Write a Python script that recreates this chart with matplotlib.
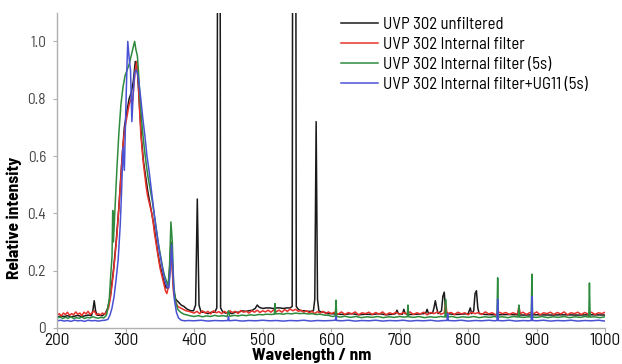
import matplotlib
matplotlib.use('Agg')
from matplotlib import pyplot as plt
from matplotlib import ticker

plt.rcParams['font.family'] = ['Barlow Semi Condensed', 'Archivo Narrow', 'Liberation Sans', 'DejaVu Sans']

# spectra: (wavelength nm, relative intensity)
unfiltered = [
    (200, .038), (205, .042), (210, .040), (215, .043), (220, .039), (225, .041), (230, .044),
    (235, .040), (240, .042), (245, .045), (250, .043), (252, .060), (254, .095), (256, .060),
    (258, .045), (262, .044), (266, .043), (270, .050), (274, .070), (278, .12), (282, .20),
    (286, .30), (290, .42), (294, .57), (298, .70), (302, .76), (305, .80), (308, .82), (311, .86),
    (314, .93), (317, .90), (320, .78), (323, .66), (326, .58), (329, .53), (332, .48), (335, .44),
    (338, .40), (341, .36), (344, .31), (347, .26), (350, .22), (353, .19), (356, .16), (359, .14),
    (362, .14), (364, .20), (366, .30), (368, .22), (370, .13), (373, .10), (377, .09), (381, .08),
    (385, .075), (390, .065), (395, .060), (399, .060), (402, .08), (404.5, .45), (407, .08),
    (410, .055), (415, .055), (420, .050), (425, .055), (430, .055), (433, .070), (435.5, 3.0),
    (437, 3.0), (438.5, .07), (442, .055), (446, .052), (450, .055), (455, .050), (460, .055),
    (465, .055), (470, .060), (475, .058), (480, .060), (485, .062), (489, .068), (492, .080),
    (495, .072), (500, .068), (505, .070), (510, .070), (515, .068), (520, .070), (525, .070),
    (530, .068), (535, .070), (540, .070), (543, .075), (544.5, 3.0), (547.5, 3.0), (549, .075),
    (552, .065), (556, .060), (560, .060), (565, .058), (570, .058), (574, .060), (576, .10),
    (578, .72), (580, .10), (582, .060), (586, .055), (590, .055), (595, .050), (600, .050),
    (610, .048), (620, .047), (630, .050), (640, .046), (650, .048), (660, .047), (670, .050),
    (680, .046), (690, .048), (694, .050), (696, .062), (698, .050), (704, .048), (706, .065),
    (708, .050), (715, .047), (725, .048), (735, .050), (738, .052), (740, .065), (742, .050),
    (748, .052), (750, .070), (752, .095), (754, .070), (756, .050), (761, .060), (763, .11),
    (765, .125), (767, .060), (770, .050), (780, .047), (790, .048), (800, .050), (803, .070),
    (805, .050), (808, .060), (810, .12), (812, .13), (814, .070), (816, .050), (825, .047),
    (840, .046), (860, .047), (880, .045), (900, .046), (920, .045), (940, .046), (960, .045),
    (980, .046), (1000, .045),
]

internal = [
    (200, .045), (203, .050), (206, .042), (209, .052), (212, .047), (215, .055), (218, .044),
    (221, .050), (224, .046), (227, .056), (230, .048), (233, .052), (236, .043), (239, .055),
    (242, .049), (245, .058), (248, .047), (251, .053), (254, .060), (257, .046), (260, .050),
    (263, .045), (266, .052), (269, .048), (272, .055), (275, .070), (278, .11), (281, .17),
    (284, .24), (287, .32), (290, .42), (293, .53), (296, .64), (299, .70), (302, .74), (305, .78),
    (308, .80), (310, .79), (312, .85), (314, .90), (316, .93), (318, .88), (320, .77), (322, .68),
    (324, .62), (326, .57), (328, .53), (330, .49), (332, .46), (334, .44), (336, .42), (338, .40),
    (340, .37), (342, .33), (344, .30), (346, .27), (348, .24), (350, .21), (352, .19), (354, .17),
    (356, .15), (358, .13), (360, .12), (362, .14), (364, .18), (366, .28), (368, .20), (370, .12),
    (373, .09), (376, .075), (380, .070), (384, .065), (388, .060), (392, .058), (396, .055),
    (400, .052), (404, .058), (408, .050), (412, .060), (416, .052), (420, .058), (424, .049),
    (428, .060), (432, .053), (436, .057), (440, .050), (444, .058), (448, .052), (452, .060),
    (456, .054), (460, .058), (464, .050), (468, .061), (472, .055), (476, .058), (480, .052),
    (484, .060), (488, .055), (492, .062), (496, .054), (500, .060), (504, .056), (508, .062),
    (512, .055), (516, .063), (520, .057), (524, .062), (528, .055), (532, .064), (536, .058),
    (540, .066), (544, .060), (548, .065), (552, .058), (556, .062), (560, .055), (564, .060),
    (568, .053), (572, .058), (576, .050), (580, .057), (584, .052), (588, .058), (592, .050),
    (596, .056), (600, .050), (605, .055), (610, .048), (615, .056), (620, .047), (625, .054),
    (630, .049), (635, .056), (640, .046), (645, .053), (650, .050), (655, .055), (660, .047),
    (665, .054), (670, .048), (675, .056), (680, .046), (685, .053), (690, .049), (695, .055),
    (700, .047), (705, .054), (710, .050), (715, .056), (720, .047), (725, .053), (730, .049),
    (735, .055), (740, .046), (745, .054), (750, .050), (755, .056), (760, .048), (765, .052),
    (767, .090), (769, .050), (775, .054), (780, .047), (785, .055), (790, .049), (795, .053),
    (800, .046), (805, .055), (810, .050), (815, .054), (820, .047), (825, .056), (830, .049),
    (835, .053), (840, .046), (845, .055), (850, .050), (855, .054), (860, .047), (865, .053),
    (870, .049), (872, .050), (874, .075), (876, .050), (880, .055), (885, .047), (890, .054),
    (895, .049), (900, .056), (905, .046), (910, .053), (915, .050), (920, .055), (925, .047),
    (930, .054), (935, .049), (940, .056), (945, .046), (950, .053), (955, .050), (960, .055),
    (965, .047), (970, .054), (975, .049), (980, .055), (985, .047), (990, .053), (995, .050),
    (1000, .055),
]

internal_5s = [
    (200, .035), (204, .038), (208, .033), (212, .037), (216, .034), (220, .039), (224, .033),
    (228, .036), (232, .034), (236, .038), (240, .033), (244, .037), (248, .035), (252, .039),
    (256, .036), (260, .034), (264, .037), (268, .035), (272, .045), (276, .10), (278, .18),
    (280, .25), (281, .41), (282, .30), (284, .40), (287, .55), (290, .68), (293, .78), (296, .84),
    (299, .88), (302, .90), (305, .92), (308, .95), (311, .98), (313, 1.00), (315, .97), (317, .95),
    (319, .88), (321, .80), (324, .70), (327, .63), (330, .57), (333, .52), (336, .48), (339, .44),
    (342, .39), (345, .34), (348, .29), (351, .25), (354, .21), (357, .18), (360, .16), (362, .15),
    (364, .22), (366, .37), (368, .30), (370, .15), (373, .09), (376, .065), (380, .055),
    (385, .048), (390, .045), (395, .042), (400, .040), (406, .043), (412, .039), (418, .042),
    (424, .040), (430, .044), (436, .041), (442, .043), (448, .040), (450, .060), (452, .041),
    (458, .044), (464, .042), (470, .045), (476, .043), (482, .046), (488, .044), (494, .047),
    (500, .046), (506, .048), (512, .047), (517, .048), (518, .085), (519, .049), (524, .050),
    (530, .048), (536, .051), (542, .049), (548, .052), (554, .050), (560, .051), (566, .049),
    (572, .050), (578, .047), (584, .048), (590, .045), (596, .044), (602, .040), (606, .042),
    (607, .097), (608, .040), (614, .038), (620, .041), (628, .037), (636, .040), (644, .036),
    (652, .039), (660, .037), (668, .040), (676, .036), (684, .039), (692, .037), (700, .040),
    (706, .038), (711, .039), (712, .080), (713, .039), (720, .037), (728, .040), (736, .036),
    (744, .039), (752, .037), (760, .040), (766, .038), (767, .100), (768, .038), (776, .040),
    (784, .036), (792, .039), (800, .037), (808, .040), (816, .036), (824, .039), (832, .037),
    (838, .040), (842, .038), (843, .175), (844, .038), (850, .039), (858, .036), (866, .040),
    (873, .038), (874, .080), (875, .038), (882, .037), (888, .039), (892, .038), (893, .188),
    (894, .038), (900, .037), (908, .040), (916, .036), (924, .039), (932, .037), (940, .040),
    (948, .036), (956, .039), (964, .037), (970, .040), (976, .038), (977, .157), (978, .038),
    (984, .039), (992, .036), (1000, .039),
]

ug11 = [
    (200, .025), (205, .027), (210, .024), (215, .026), (220, .023), (225, .027), (230, .025),
    (235, .026), (240, .023), (245, .027), (250, .025), (255, .026), (260, .024), (265, .026),
    (270, .027), (274, .030), (277, .045), (280, .070), (283, .11), (286, .17), (289, .24),
    (292, .36), (294, .48), (296, .63), (298, .55), (300, .75), (302, .93), (303, 1.00), (305, .94),
    (307, .90), (309, .72), (311, .82), (313, .89), (315, .90), (317, .89), (319, .86), (322, .80),
    (325, .73), (328, .67), (331, .60), (334, .55), (337, .49), (340, .43), (343, .37), (346, .32),
    (349, .27), (352, .23), (355, .19), (358, .16), (361, .14), (363, .14), (365, .20), (367, .29),
    (369, .20), (371, .10), (374, .055), (377, .035), (381, .027), (386, .025), (392, .026),
    (400, .025), (410, .027), (420, .024), (430, .026), (440, .025), (449, .026), (450, .040),
    (451, .025), (460, .027), (470, .024), (480, .026), (490, .025), (500, .027), (510, .025),
    (520, .026), (530, .024), (540, .026), (550, .025), (560, .027), (570, .024), (580, .026),
    (590, .025), (600, .026), (606, .027), (607, .040), (608, .026), (615, .025), (625, .027),
    (635, .024), (645, .026), (655, .025), (665, .027), (675, .024), (685, .026), (695, .025),
    (705, .027), (715, .024), (725, .026), (735, .025), (745, .027), (755, .024), (765, .026),
    (769, .026), (770, .050), (771, .026), (780, .025), (790, .027), (800, .024), (810, .026),
    (820, .025), (830, .027), (838, .025), (842, .026), (843, .100), (844, .026), (850, .025),
    (860, .027), (870, .024), (880, .026), (888, .025), (892, .026), (893, .110), (894, .026),
    (900, .025), (910, .027), (920, .024), (930, .026), (940, .025), (950, .027), (960, .024),
    (970, .026), (980, .025), (990, .027), (1000, .024),
]

series = [
    (unfiltered, '#1a1a1a', 'UVP 302 unfiltered'),
    (internal, '#e8312a', 'UVP 302 Internal filter'),
    (internal_5s, '#2e8b3e', 'UVP 302 Internal filter (5s)'),
    (ug11, '#4a52d4', 'UVP 302 Internal filter+UG11 (5s)'),
]

fig = plt.figure(figsize=(6.22, 3.64), dpi=100)
ax = fig.add_axes([0.092, 0.099, 0.881, 0.866])

for pts, colour, label in series:
    nm, vals = zip(*pts)
    ax.plot(nm, vals, color=colour, lw=1.1, label=label)

ax.set_xlim(200, 1000)
ax.set_ylim(0, 1.1)
ax.set_xticks(range(200, 1001, 100))
ax.set_yticks([0, 0.2, 0.4, 0.6, 0.8, 1.0])
ax.yaxis.set_major_formatter(ticker.FuncFormatter(lambda v, p: '0' if v == 0 else f'{v:.1f}'))

for side in ('top', 'right'):
    ax.spines[side].set_visible(False)
for side in ('left', 'bottom'):
    ax.spines[side].set_color('#b0b0b0')
    ax.spines[side].set_linewidth(1.0)

ax.tick_params(axis='x', colors='#b0b0b0', labelcolor='#111111', labelsize=12.5, length=3, pad=0.5)
ax.tick_params(axis='y', colors='#b0b0b0', labelcolor='#444444', labelsize=11, length=3, pad=5)

ax.set_xlabel('Wavelength / nm', fontsize=12.5, fontweight='bold')
ax.xaxis.set_label_coords(0.465, -0.063)
ax.set_ylabel('Relative intensity', fontsize=12.5, fontweight='bold')
ax.yaxis.set_label_coords(-0.065, 0.35)

ax.legend(loc='upper right', bbox_to_anchor=(0.995, 1.035), frameon=False, fontsize=12,
          handlelength=2.2, handletextpad=0.3, labelspacing=0.3)

fig.savefig('out.png', dpi=100)
